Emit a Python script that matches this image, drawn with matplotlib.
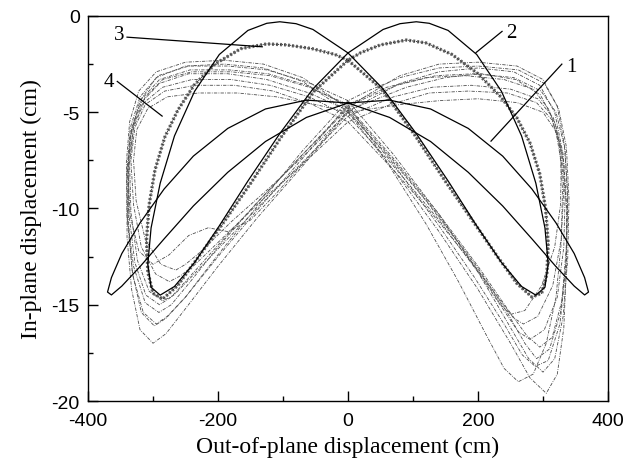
import numpy as np
import matplotlib.pyplot as plt

plt.rcParams['axes.unicode_minus'] = False

# curve 1 (solid, wide figure-eight)
curve1_x = [0, 64, 127, 185, 238, 283, 320, 348, 364, 370, 364, 348, 320, 283, 238, 185, 127, 64,
            0, -64, -127, -185, -238, -283, -320, -348, -364, -370, -364, -348, -320, -283, -238, -185, -127, -64, 0]
curve1_y = [-4.52, -5.27, -6.52, -8.12, -9.87, -11.58, -13.02, -14.03, -14.49, -14.34, -13.59, -12.34, -10.75,
            -8.99, -7.28, -5.84, -4.83, -4.37, -4.52, -5.27, -6.52, -8.12, -9.87, -11.58, -13.02, -14.03, -14.49,
            -14.34, -13.59, -12.34, -10.75, -8.99, -7.28, -5.84, -4.83, -4.37, -4.52]

# curve 2 (solid, tall figure-eight)
curve2_x = [0, 54, 105, 154, 198, 236, 267, 289, 303, 308, 303, 289, 267, 236, 198, 154, 125, 105, 80, 54,
            0, -54, -105, -154, -198, -236, -267, -289, -303, -308, -303, -289, -267, -236, -198, -154, -125, -105, -80, -54, 0]
curve2_y = [-1.92, -3.79, -6.11, -8.57, -10.90, -12.80, -14.05, -14.50, -14.09, -12.88, -11.01, -8.69, -6.23,
            -3.91, -2.00, -0.75, -0.38, -0.30, -0.40, -0.70, -1.92, -3.79, -6.11, -8.57, -10.90, -12.80, -14.05, -14.50,
            -14.09, -12.88, -11.01, -8.69, -6.23, -3.91, -2.00, -0.75, -0.38, -0.30, -0.40, -0.70, -1.92]

# curve 3 (dense stippled band)
curve3 = [(0, -2.3), (52, -3.8), (103, -6.2), (150, -8.6), (193, -10.7), (230, -12.5), (260, -13.9), (283, -14.6),
          (298, -14.4), (306, -13.4), (308, -11.8), (304, -10.0), (295, -8.2), (280, -6.6), (260, -5.3), (235, -4.2),
          (200, -3.0), (160, -2.0), (120, -1.4), (90, -1.25), (50, -1.5), (20, -1.9), (0, -2.3),
          (-52, -3.9), (-103, -6.3), (-150, -8.7), (-193, -10.8), (-232, -12.6), (-262, -14.0), (-285, -14.7),
          (-300, -14.4), (-308, -13.3), (-310, -11.6), (-306, -9.8), (-297, -8.0), (-282, -6.3), (-262, -4.9),
          (-237, -3.6), (-205, -2.5), (-165, -1.7), (-125, -1.45), (-95, -1.5), (-55, -1.7), (-20, -2.0), (0, -2.3)]

# curve 4 (measured cycles, dash-dot)
cycle4_1 = [(0, -5.0), (70, -8.0), (140, -11.2), (200, -14.2), (250, -17.0), (280, -18.8), (305, -19.6), (322, -18.6),
            (332, -16.2), (336, -13.0), (336, -10.0), (331, -7.2), (318, -5.0), (295, -3.6), (255, -2.9), (200, -2.7),
            (140, -2.9), (80, -3.5), (30, -4.4), (0, -5.0), (-70, -7.8), (-140, -10.5), (-200, -13.0), (-250, -15.2),
            (-280, -16.5), (-300, -17.0), (-320, -16.3), (-333, -14.2), (-340, -11.5), (-340, -8.5), (-335, -6.2),
            (-320, -4.4), (-295, -3.2), (-250, -2.6), (-190, -2.5), (-130, -2.7), (-70, -3.4), (-30, -4.3), (0, -5.0)]
cycle4_2 = [(0, -4.6), (60, -7.6), (120, -10.8), (170, -13.8), (210, -16.4), (240, -18.3), (262, -19.0), (285, -18.6),
            (305, -17.0), (320, -14.6), (328, -11.8), (330, -9.0), (325, -6.6), (310, -4.9), (285, -3.8), (240, -3.3),
            (180, -3.1), (120, -3.2), (60, -3.7), (0, -4.6), (-70, -7.4), (-140, -10.1), (-200, -12.5), (-250, -14.6),
            (-280, -15.7), (-298, -16.1), (-318, -15.4), (-332, -13.3), (-338, -10.6), (-337, -7.8), (-330, -5.7),
            (-312, -4.2), (-285, -3.3), (-240, -2.9), (-180, -2.9), (-120, -3.1), (-60, -3.7), (0, -4.6)]
cycle4_3 = [(0, -4.8), (70, -7.5), (140, -10.4), (200, -13.1), (245, -15.4), (272, -17.0), (290, -17.8), (310, -17.3),
            (327, -15.4), (336, -12.6), (338, -9.6), (334, -6.9), (322, -4.7), (300, -3.3), (260, -2.6), (200, -2.4),
            (140, -2.5), (80, -3.1), (30, -4.1), (0, -4.8), (-70, -7.2), (-140, -9.7), (-200, -12.0), (-245, -13.9),
            (-272, -15.0), (-291, -15.4), (-312, -14.9), (-330, -13.0), (-340, -10.4), (-341, -7.6), (-336, -5.5),
            (-322, -3.9), (-295, -2.9), (-250, -2.4), (-190, -2.3), (-130, -2.5), (-70, -3.2), (-30, -4.1), (0, -4.8)]
cycle4_4 = [(0, -5.2), (70, -7.8), (140, -10.6), (200, -13.3), (240, -15.3), (262, -16.4), (280, -16.8), (302, -16.3),
            (322, -14.6), (332, -12.0), (334, -9.3), (329, -7.0), (316, -5.3), (292, -4.3), (250, -3.8), (190, -3.6),
            (130, -3.7), (70, -4.2), (0, -5.2), (-70, -7.6), (-140, -10.0), (-200, -12.1), (-245, -13.7), (-268, -14.5),
            (-285, -14.8), (-306, -14.3), (-324, -12.7), (-334, -10.2), (-336, -7.7), (-330, -5.8), (-314, -4.5),
            (-285, -3.7), (-240, -3.3), (-180, -3.3), (-120, -3.6), (-60, -4.2), (0, -5.2)]
cycle4_5 = [(0, -4.4), (70, -7.2), (140, -10.3), (200, -13.3), (245, -15.9), (278, -17.8), (300, -18.5), (318, -17.8),
            (331, -15.6), (338, -12.6), (340, -9.5), (336, -6.8), (324, -4.8), (302, -3.5), (262, -2.8), (200, -2.6),
            (140, -2.7), (80, -3.2), (30, -3.9), (0, -4.4), (-70, -7.0), (-140, -9.9), (-200, -12.4), (-250, -14.6),
            (-278, -15.6), (-295, -16.0), (-315, -15.4), (-331, -13.5), (-339, -10.8), (-340, -8.0), (-335, -5.8),
            (-320, -4.2), (-292, -3.1), (-245, -2.6), (-185, -2.6), (-125, -2.8), (-65, -3.4), (0, -4.4)]
cycle4_6 = [(0, -5.5), (70, -8.0), (140, -10.7), (195, -13.0), (235, -14.8), (255, -15.7), (270, -16.0), (292, -15.6),
            (315, -14.0), (328, -11.6), (332, -9.0), (327, -6.9), (314, -5.4), (290, -4.5), (245, -4.0), (185, -3.9),
            (125, -4.0), (65, -4.6), (0, -5.5), (-70, -7.7), (-140, -9.8), (-195, -11.6), (-235, -12.9), (-258, -13.5),
            (-275, -13.8), (-296, -13.4), (-318, -12.0), (-330, -9.8), (-334, -7.5), (-328, -5.8), (-312, -4.6),
            (-282, -3.9), (-235, -3.6), (-175, -3.6), (-115, -3.9), (-55, -4.6), (0, -5.5)]
cycle4_7 = [(0, -4.7), (70, -7.4), (140, -10.3), (200, -13.0), (245, -15.2), (275, -16.6), (295, -17.2), (314, -16.7),
            (329, -14.8), (336, -12.0), (338, -9.2), (333, -6.8), (320, -5.0), (297, -3.9), (255, -3.2), (195, -3.0),
            (135, -3.1), (75, -3.6), (25, -4.3), (0, -4.7), (-70, -7.2), (-140, -9.7), (-200, -11.9), (-245, -13.6),
            (-272, -14.6), (-290, -15.0), (-311, -14.5), (-328, -12.8), (-337, -10.3), (-338, -7.7), (-332, -5.7),
            (-317, -4.3), (-290, -3.3), (-243, -2.8), (-183, -2.8), (-123, -3.0), (-63, -3.6), (0, -4.7)]
cycle4_8 = [(0, -5.0), (60, -7.2), (120, -9.6), (170, -11.8), (210, -13.7), (235, -15.0), (250, -15.5), (272, -15.3),
            (298, -14.0), (318, -12.0), (327, -9.8), (328, -7.6), (320, -6.0), (300, -5.0), (260, -4.5), (200, -4.3),
            (140, -4.4), (80, -4.6), (0, -5.0), (-60, -7.0), (-120, -8.9), (-180, -10.7), (-225, -12.2), (-250, -12.9),
            (-265, -13.2), (-288, -12.9), (-312, -11.6), (-326, -9.6), (-330, -7.5), (-325, -5.9), (-308, -4.8),
            (-278, -4.2), (-230, -4.0), (-170, -4.0), (-110, -4.2), (-50, -4.6), (0, -5.0)]
cycle4_9 = [(0, -4.9), (70, -7.7), (140, -10.9), (195, -13.6), (240, -16.0), (268, -17.6), (288, -18.2), (308, -17.9),
            (326, -16.0), (335, -13.2), (337, -10.2), (332, -7.6), (319, -5.6), (296, -4.1), (258, -3.3), (205, -3.0),
            (150, -3.2), (90, -3.7), (0, -4.9), (-60, -7.3), (-110, -9.2), (-150, -10.6), (-185, -11.2), (-215, -11.0),
            (-245, -11.4), (-275, -12.4), (-300, -12.9), (-322, -12.2), (-335, -10.4), (-339, -8.0), (-334, -6.0),
            (-318, -4.5), (-290, -3.5), (-245, -3.0), (-185, -3.0), (-125, -3.3), (-60, -4.0), (0, -4.9)]
curve4_cycles = [cycle4_1, cycle4_2, cycle4_3, cycle4_4, cycle4_5, cycle4_6, cycle4_7, cycle4_8, cycle4_9]

# curve labels: text position and leader end point
label_names = ["1", "2", "3", "4"]
label_text_xy = [(343, -2.6), (252, -0.85), (-352, -0.95), (-368, -3.4)]
label_line_start = [(329, -2.5), (237, -0.8), (-340, -1.1), (-355, -3.4)]
label_line_end = [(220, -6.5), (197, -1.9), (-132, -1.6), (-286, -5.2)]


fig = plt.figure(figsize=(6.27, 4.64), dpi=100)
ax = fig.add_axes([0.1404, 0.1336, 0.8293, 0.8298])

for cyc in curve4_cycles:
    pts = np.array(cyc)
    ax.plot(pts[:, 0], pts[:, 1], color='0.3', lw=0.6, dashes=(4, 1.5, 1, 1.5))

pts3 = np.array(curve3)
ax.plot(pts3[:, 0], pts3[:, 1], color='0.4', lw=2.4, dashes=(0.6, 0.6))
ax.plot(pts3[:, 0], pts3[:, 1], color='0.15', lw=0.7, dashes=(1, 1))

ax.plot(curve1_x, curve1_y, color='black', lw=0.9)
ax.plot(curve2_x, curve2_y, color='black', lw=0.9)

for name, txy, ls, le in zip(label_names, label_text_xy, label_line_start, label_line_end):
    ax.plot([ls[0], le[0]], [ls[1], le[1]], color='black', lw=0.9)
    ax.text(txy[0], txy[1], name, fontsize=15, family='Liberation Serif', ha='center', va='center')

ax.set_xlim(-400, 400)
ax.set_ylim(-20, 0)
ax.set_xticks([-400, -200, 0, 200, 400])
ax.set_yticks([-20, -15, -10, -5, 0])
ax.set_xticks([-300, -100, 100, 300], minor=True)
ax.set_yticks([-17.5, -12.5, -7.5, -2.5], minor=True)
ax.tick_params(which='major', direction='in', length=7, width=1, labelsize=14)
ax.tick_params(axis='x', which='major', pad=8)
ax.tick_params(axis='y', which='major', pad=6)
ax.tick_params(which='minor', direction='in', length=3.5, width=1)
for lab in ax.get_xticklabels() + ax.get_yticklabels():
    lab.set_family('Liberation Sans')
for sp in ax.spines.values():
    sp.set_linewidth(1)

ax.set_xlabel("Out-of-plane displacement (cm)", family='Liberation Serif', fontsize=17, labelpad=5)
ax.set_ylabel("In-plane displacement (cm)", family='Liberation Serif', fontsize=17, labelpad=7)

fig.savefig("out.png", dpi=100)
